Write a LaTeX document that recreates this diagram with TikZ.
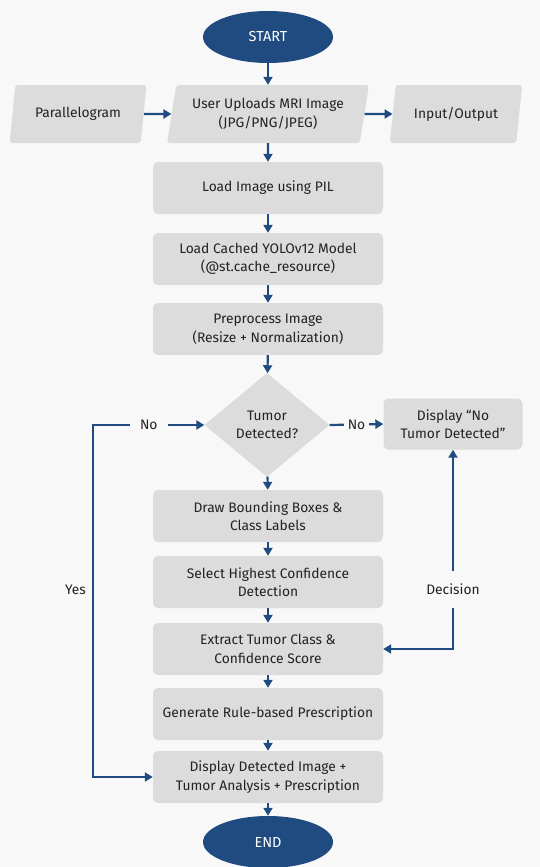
\documentclass[tikz,border=0pt]{standalone}
\usepackage{fontspec}
\setmainfont{Fira Sans}
\usetikzlibrary{shapes.geometric,arrows.meta}
\definecolor{navy}{HTML}{1F4B80}
\definecolor{boxgray}{HTML}{DCDCDC}
\definecolor{ink}{HTML}{222222}
\definecolor{paper}{HTML}{F8F8F8}
\newcommand{\txt}{\fontsize{13.8}{18.5}\selectfont}
\begin{document}
\begin{tikzpicture}[x=1pt,y=-1pt,>={Triangle[length=8pt,width=9pt]},
  proc/.style={fill=boxgray, rounded corners=5pt, minimum width=230pt, minimum height=52pt, align=center, text=ink, font=\txt},
  io/.style={trapezium, trapezium left angle=78, trapezium right angle=102, trapezium stretches=true, rounded corners=3pt, fill=boxgray, minimum height=58pt, align=center, text=ink, font=\txt},
  term/.style={ellipse, fill=navy, text=white, minimum width=130pt, minimum height=52pt, font=\fontsize{14.5}{17}\selectfont},
  flow/.style={navy, line width=2.2pt, ->},
  lbl/.style={fill=paper, text=ink, font=\txt}]
\fill[paper] (0,0) rectangle (540,867);
\useasboundingbox (0,0) rectangle (540,867);
% terminals
\node[term] (start) at (268,37) {START};
\node[term] (end) at (268,842) {END};
% input row
\node[io, minimum width=202pt] (upload) at (268,114) {User Uploads MRI Image\\(JPG/PNG/JPEG)};
\node[io, minimum width=137pt] (para) at (78,114) {Parallelogram};
\node[io, minimum width=133pt] (inout) at (456,114) {Input/Output};
% main column
\node[proc] (pil) at (268,188) {Load Image using PIL};
\node[proc] (yolo) at (268,259) {Load Cached YOLOv12 Model\\(@st.cache\_resource)};
\node[proc] (prep) at (268,329) {Preprocess Image\\(Resize + Normalization)};
\node[diamond, fill=boxgray, minimum width=125pt, minimum height=104pt, inner sep=0pt, align=center, text=ink, font=\txt] (dec) at (267,425) {Tumor\\Detected?};
\node[proc] (boxes) at (268,516) {Draw Bounding Boxes \&\\Class Labels};
\node[proc] (best) at (268,582) {Select Highest Confidence\\Detection};
\node[proc] (extract) at (268,649) {Extract Tumor Class \&\\Confidence Score};
\node[proc] (rx) at (268,714) {Generate Rule-based Prescription};
\node[proc] (show) at (268,777) {Display Detected Image +\\Tumor Analysis + Prescription};
\node[proc, minimum width=139pt, minimum height=51pt] (notum) at (453,424) {Display “No\\Tumor Detected”};
% arrows
\draw[flow] (start) -- (upload);
\draw[flow] (para) -- (upload);
\draw[flow] (upload) -- (inout);
\draw[flow] (upload) -- (pil);
\draw[flow] (pil) -- (yolo);
\draw[flow] (yolo) -- (prep);
\draw[flow] (prep) -- (dec);
\draw[flow] (dec) -- (boxes);
\draw[flow] (boxes) -- (best);
\draw[flow] (best) -- (extract);
\draw[flow] (extract) -- (rx);
\draw[flow] (rx) -- (show);
\draw[flow] (show) -- (end);
\draw[flow] (dec.east) -- node[lbl, inner xsep=4pt]{No} (notum.west);
\draw[flow,<->] (dec.west) -- node[lbl, inner xsep=10pt]{No} ++(-111,0)
  |- node[pos=0.234, left=3pt, text=ink, font=\txt]{Yes} (show.west);
\draw[flow,<->] (extract.east) -| node[pos=0.65, lbl, inner ysep=13pt]{Decision} (notum.south);
\end{tikzpicture}
\end{document}
